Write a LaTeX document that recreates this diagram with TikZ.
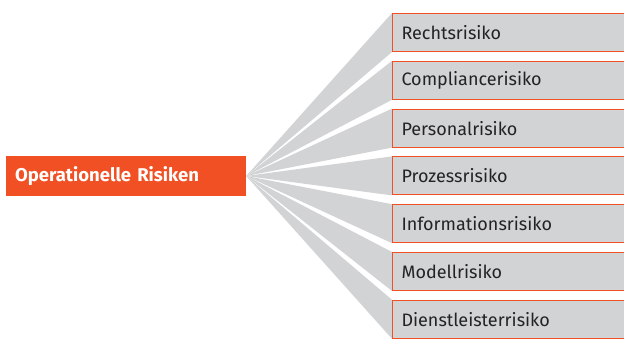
\documentclass[tikz,border=0pt]{standalone}
\usepackage{fontspec}
\setmainfont{Fira Sans}
\usetikzlibrary{backgrounds}
\definecolor{riskorange}{RGB}{240,80,35}
\definecolor{riskgray}{RGB}{209,211,212}
\definecolor{risktext}{RGB}{35,35,35}
\begin{document}
\begin{tikzpicture}[x=1pt, y=-1pt,
    rootbox/.style={fill=riskorange, text=white, font=\bfseries\fontsize{18.5}{22}\selectfont,
      minimum width=240pt, minimum height=40pt, text width=222pt, inner xsep=9pt, align=left},
    riskbox/.style={draw=riskorange, line width=1pt, fill=riskgray, text=risktext,
      font=\fontsize{18}{22}\selectfont, anchor=west,
      minimum width=260pt, minimum height=38pt, text width=242pt, inner xsep=9pt, align=left},
    fan/.style={fill=riskgray}]
        \useasboundingbox (0,0) rectangle (624,347);
        \clip (0,0) rectangle (624,347);

        % Root node
        \node[rootbox] (oprisk) at (126,176) {Operationelle Risiken};

        % Risk types
        \node[riskbox] (recht) at (392,32.5) {Rechtsrisiko};
        \node[riskbox] (compliance) at (392,80.3) {Compliancerisiko};
        \node[riskbox] (personal) at (392,128.1) {Personalrisiko};
        \node[riskbox] (prozess) at (392,175.9) {Prozessrisiko};
        \node[riskbox] (information) at (392,223.7) {Informationsrisiko};
        \node[riskbox] (modell) at (392,271.5) {Modellrisiko};
        \node[riskbox] (dienst) at (392,319.3) {Dienstleisterrisiko};

        % Gray fan from root to each box
        \begin{scope}[on background layer]
        \fill[fan] (oprisk.east) -- (recht.north west) -- (recht.south west) -- cycle;
        \fill[fan] (oprisk.east) -- (compliance.north west) -- (compliance.south west) -- cycle;
        \fill[fan] (oprisk.east) -- (personal.north west) -- (personal.south west) -- cycle;
        \fill[fan] (oprisk.east) -- (prozess.north west) -- (prozess.south west) -- cycle;
        \fill[fan] (oprisk.east) -- (information.north west) -- (information.south west) -- cycle;
        \fill[fan] (oprisk.east) -- (modell.north west) -- (modell.south west) -- cycle;
        \fill[fan] (oprisk.east) -- (dienst.north west) -- (dienst.south west) -- cycle;
        \end{scope}
\end{tikzpicture}
\end{document}
